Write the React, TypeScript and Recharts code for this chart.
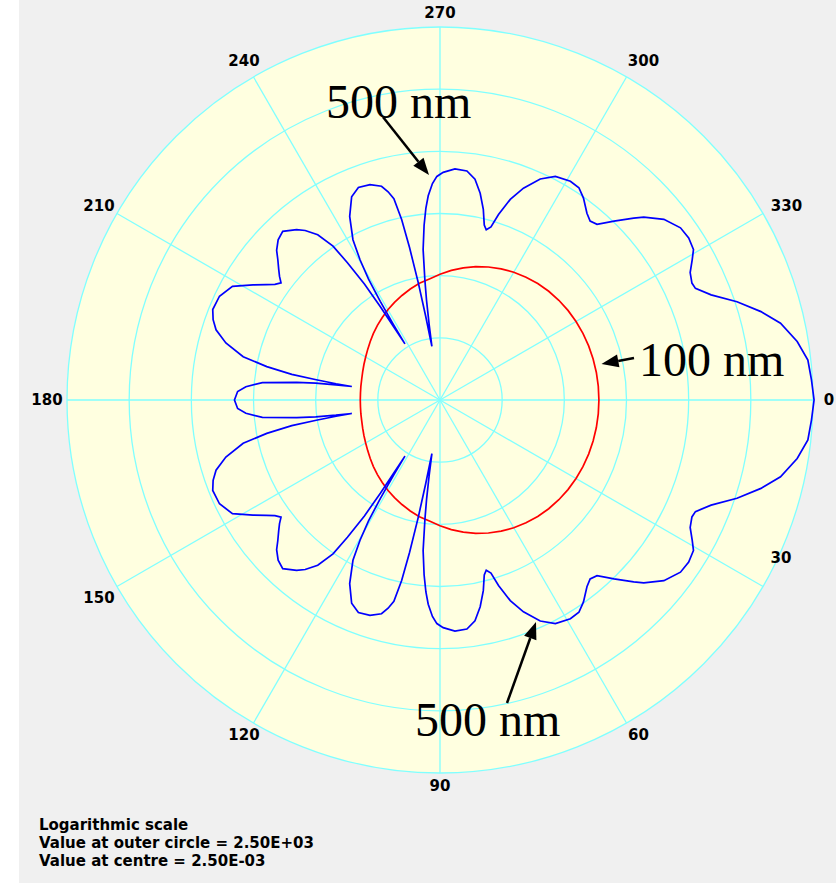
import React from "react"
import { RadarChart, Radar, PolarGrid, PolarAngleAxis, PolarRadiusAxis, PieChart, Pie } from "recharts"

const W = 836
const H = 885
const CX = 440
const CY = 400
const R = 373

// log scale: centre = 2.5e-3, outer circle = 2.5e+3
const centreValue = 0.0025
const outerValue = 2500
const ringTicks = [0.025, 0.25, 2.5, 25, 250, 2500]
const angleTicks = [0, 30, 60, 90, 120, 150, 180, 210, 240, 270, 300, 330]

// 100 nm particle
const redAngles = [
  0, 5, 10, 15, 20, 25, 30, 35, 40, 45, 50, 55, 60, 65, 70, 75, 80, 85, 90, 95, 100, 105, 110, 115,
  120, 125, 130, 135, 140, 145, 150, 155, 160, 165, 170, 175, 180, 185, 190, 195, 200, 205, 210, 215,
  220, 225, 230, 235, 240, 245, 250, 255, 260, 265, 270, 275, 280, 285, 290, 295, 300, 305, 310, 315,
  320, 325, 330, 335, 340, 345, 350, 355,
]
const redValues = [
  0.9, 0.899, 0.895, 0.887, 0.876, 0.861, 0.841, 0.815, 0.782, 0.743, 0.698, 0.646, 0.591, 0.532, 0.473, 0.415, 0.36, 0.309, 0.264, 0.225, 0.202, 0.176, 0.154, 0.135,
  0.119, 0.104, 0.0921, 0.0818, 0.0729, 0.0657, 0.0601, 0.056, 0.0527, 0.0503, 0.049, 0.0481, 0.0479, 0.0481, 0.049, 0.0503, 0.0527, 0.056, 0.0601, 0.0657,
  0.0729, 0.0818, 0.0921, 0.104, 0.119, 0.135, 0.154, 0.176, 0.202, 0.225, 0.264, 0.309, 0.36, 0.415, 0.473, 0.532, 0.591, 0.646, 0.698, 0.743,
  0.782, 0.815, 0.841, 0.861, 0.876, 0.887, 0.895, 0.899,
]

// 500 nm particle
const blueAngles = [
  0, 3.1, 6.2, 9.3, 12.7, 15.4, 18.3, 21.2, 23.6, 24.9, 27, 29.1, 30.7, 33.1, 35.6, 38.9, 41.9, 43.2, 45.8, 48.2,
  50, 51.8, 54.6, 56.8, 59.2, 62.7, 65.6, 68.5, 70.7, 72.5, 73.6, 74.8, 75.8, 77.2, 79, 81, 83.3, 86.3, 89.2, 90.8,
  92, 93.3, 94.2, 95.2, 96.4, 97.2, 97.7, 98.2, 98.6, 99, 99.7, 100.5, 101.3, 102, 102.9, 104, 105.3, 108, 111, 113.5,
  116.2, 118.5, 119.7, 120.6, 121.2, 121.7, 122, 122.3, 122.6, 123.1, 124, 124.8, 126.5, 128.5, 130.1, 133, 135.3, 137.5, 139.1, 141,
  142.4, 143.6, 145, 146.4, 148.4, 151.3, 154.8, 158.3, 160.5, 162.6, 165.1, 167.6, 169.1, 170.2, 170.7, 171.1, 171.3, 171.7, 172.3, 173,
  174.4, 176.1, 177.6,
  180, 182.4, 183.9, 185.6, 187, 187.7, 188.3, 188.7, 188.9, 189.3, 189.8, 190.9, 192.4, 194.9, 197.4, 199.5, 201.7, 205.2, 208.7, 211.6,
  213.6, 215, 216.4, 217.6, 219, 220.9, 222.5, 224.7, 227, 229.9, 231.5, 233.5, 235.2, 236, 236.9, 237.4, 237.7, 238, 238.3, 238.8,
  239.4, 240.3, 241.5, 243.8, 246.5, 249, 252, 254.7, 256, 257.1, 258, 258.7, 259.5, 260.3, 261, 261.4, 261.8, 262.3, 262.8, 263.6,
  264.8, 265.8, 266.7, 268, 269.2, 270.8, 273.7, 276.7, 279, 281, 282.8, 284.2, 285.2, 286.4, 287.5, 289.3, 291.5, 294.4, 297.3, 300.8,
  303.2, 305.4, 308.2, 310, 311.8, 314.2, 316.8, 318.1, 321.1, 324.4, 326.9, 329.3, 330.9, 333, 335.1, 336.4, 338.8, 341.7, 344.6, 347.3,
  350.7, 353.8, 356.9,
]
const blueValues = [
  2600, 2410, 2240, 1660, 1030, 566, 269, 119, 76.2, 73.4, 82.1, 110, 138, 149, 143, 106, 63.3, 47.0, 25.9, 15.4,
  14.3, 16.6, 24.1, 30.1, 31.2, 27.9, 20.0, 11.5, 6.57, 3.37, 2.0, 1.72, 2.0, 3.49, 6.1, 9.88, 12.8, 13.3, 11.5, 9.88,
  7.62, 4.88, 3.12, 1.66, 0.682, 0.216, 0.103, 0.0405, 0.0186, 0.025, 0.0587, 0.208, 0.791, 2.32, 5.26, 7.07, 9.17, 11.0, 11.5, 9.17,
  4.88, 2.15, 0.988, 0.453, 0.179, 0.0657, 0.029, 0.0587, 0.149, 0.421, 1.15, 2.59, 5.06, 7.62, 9.52, 12.8, 11.5, 9.17, 7.07, 5.45,
  4.53, 3.76, 4.36, 5.66, 8.52, 16.0, 20.8, 21.5, 18.6, 14.9, 9.17, 4.36, 1.72, 0.657, 0.26, 0.123, 0.068, 0.123, 0.26, 0.525,
  1.86, 3.37, 4.53,
  5.06, 4.53, 3.37, 1.86, 0.525, 0.26, 0.123, 0.068, 0.123, 0.26, 0.657, 1.72, 4.36, 9.17, 14.9, 18.6, 21.5, 20.8, 16.0, 8.52,
  5.66, 4.36, 3.76, 4.53, 5.45, 7.07, 9.17, 11.5, 12.8, 9.52, 7.62, 5.06, 2.59, 1.15, 0.421, 0.149, 0.0587, 0.029, 0.0657, 0.179,
  0.453, 0.988, 2.15, 4.88, 9.17, 11.5, 11.0, 9.17, 7.07, 5.26, 2.32, 0.791, 0.208, 0.0587, 0.025, 0.0186, 0.0405, 0.103, 0.216, 0.682,
  1.66, 3.12, 4.88, 7.62, 9.88, 11.5, 13.3, 12.8, 9.88, 6.1, 3.49, 2.0, 1.72, 2.0, 3.37, 6.57, 11.5, 20.0, 27.9, 31.2,
  30.1, 24.1, 16.6, 14.3, 15.4, 25.9, 47.0, 63.3, 106, 143, 149, 138, 110, 82.1, 73.4, 76.2, 119, 269, 566, 1030,
  1660, 2240, 2410,
]

const redData = redAngles.map((angle, i) => ({ angle, value: redValues[i] }))
const blueData = blueAngles.map((angle, i) => ({ angle, value: blueValues[i] }))
const disk = [{ v: 1 }]

// label centre offset from the point on the outer circle
const labelOffset: Record<number, [number, number]> = {
  0: [16, 0],
  30: [18, -29],
  60: [12, 12],
  90: [0, 13],
  120: [-9.5, 12],
  150: [-18, 11],
  180: [-20, 0],
  210: [-18, -8],
  240: [-9.5, -16],
  270: [0, -14],
  300: [17, -16],
  330: [23.5, -8],
}

const sans = "'DejaVu Sans', Verdana, sans-serif"
const serif = "'Liberation Serif', 'Times New Roman', serif"

// recharts puts the tick 8px outside the circle; pull it back to the rim
function AngleTick(props: any) {
  const { x, y, payload } = props
  const a = (payload.value * Math.PI) / 180
  const rimX = x - 8 * Math.cos(a)
  const rimY = y - 8 * Math.sin(a)
  const off = labelOffset[payload.value] || [0, 0]
  return (
    <text x={rimX + off[0]} y={rimY + off[1]} textAnchor="middle" dominantBaseline="central" fontFamily={sans} fontWeight="bold" fontSize={15} fill="#000">
      {payload.value}
    </text>
  )
}

function Arrow({ from, to }: { from: [number, number]; to: [number, number] }) {
  const dx = to[0] - from[0]
  const dy = to[1] - from[1]
  const len = Math.sqrt(dx * dx + dy * dy)
  const ux = dx / len
  const uy = dy / len
  const hl = 17
  const hw = 6.5
  const bx = to[0] - ux * hl
  const by = to[1] - uy * hl
  const pts = `${to[0]},${to[1]} ${bx - uy * hw},${by + ux * hw} ${bx + uy * hw},${by - ux * hw}`
  return (
    <g>
      <line x1={from[0]} y1={from[1]} x2={bx} y2={by} stroke="#000" strokeWidth={2.5} />
      <polygon points={pts} fill="#000" />
    </g>
  )
}

const layer: React.CSSProperties = { position: "absolute", left: 0, top: 0 }

export default function App() {
  const chartProps = {
    width: W,
    height: H,
    cx: CX,
    cy: CY,
    innerRadius: 0,
    outerRadius: R,
    startAngle: 0,
    endAngle: -360,
    margin: { top: 0, right: 0, bottom: 0, left: 0 },
  }
  return (
    <div style={{ position: "absolute", left: 0, top: 0, width: W, height: H, background: "#fff", overflow: "hidden" }}>
      <div style={{ position: "absolute", left: 19, top: 0, width: W - 19, height: 883, background: "#f0f0f0" }} />

      <div style={layer}>
        <PieChart width={W} height={H} margin={{ top: 0, right: 0, bottom: 0, left: 0 }}>
          <Pie data={disk} dataKey="v" cx={CX} cy={CY} innerRadius={0} outerRadius={R} startAngle={0} endAngle={360} fill="#ffffe0" stroke="none" isAnimationActive={false} />
        </PieChart>
      </div>

      <div style={layer}>
        <RadarChart {...chartProps} data={redData}>
          <PolarGrid gridType="circle" stroke="#80ffff" strokeWidth={1.3} />
          <PolarAngleAxis dataKey="angle" type="number" domain={[0, 360]} ticks={angleTicks} tick={<AngleTick />} tickLine={false} axisLine={false} />
          <PolarRadiusAxis angle={0} type="number" scale="log" domain={[centreValue, outerValue]} ticks={ringTicks} tick={false} axisLine={false} allowDataOverflow />
          <Radar dataKey="value" stroke="#ff0000" strokeWidth={1.7} fill="none" fillOpacity={0} dot={false} isAnimationActive={false} />
        </RadarChart>
      </div>

      <div style={layer}>
        <RadarChart {...chartProps} data={blueData}>
          <PolarAngleAxis dataKey="angle" type="number" domain={[0, 360]} ticks={angleTicks} tick={false} tickLine={false} axisLine={false} />
          <PolarRadiusAxis angle={0} type="number" scale="log" domain={[centreValue, outerValue]} ticks={ringTicks} tick={false} axisLine={false} allowDataOverflow />
          <Radar dataKey="value" stroke="#0000ff" strokeWidth={1.7} fill="none" fillOpacity={0} dot={false} isAnimationActive={false} />
        </RadarChart>
      </div>

      <svg style={layer} width={W} height={H}>
        <text x={326} y={117.5} fontFamily={serif} fontSize={48} fill="#000">500 nm</text>
        <text x={415} y={736} fontFamily={serif} fontSize={48} fill="#000">500 nm</text>
        <text x={639} y={376} fontFamily={serif} fontSize={48} fill="#000">100 nm</text>
        <Arrow from={[383, 117]} to={[429, 175]} />
        <Arrow from={[507, 703]} to={[536, 622]} />
        <Arrow from={[634, 358]} to={[601.5, 364]} />
        <g fontFamily={sans} fontWeight="bold" fontSize={15} fill="#000">
          <text x={39} y={830}>Logarithmic scale</text>
          <text x={39} y={848}>Value at outer circle = 2.50E+03</text>
          <text x={39} y={866}>Value at centre = 2.50E-03</text>
        </g>
      </svg>
    </div>
  )
}
